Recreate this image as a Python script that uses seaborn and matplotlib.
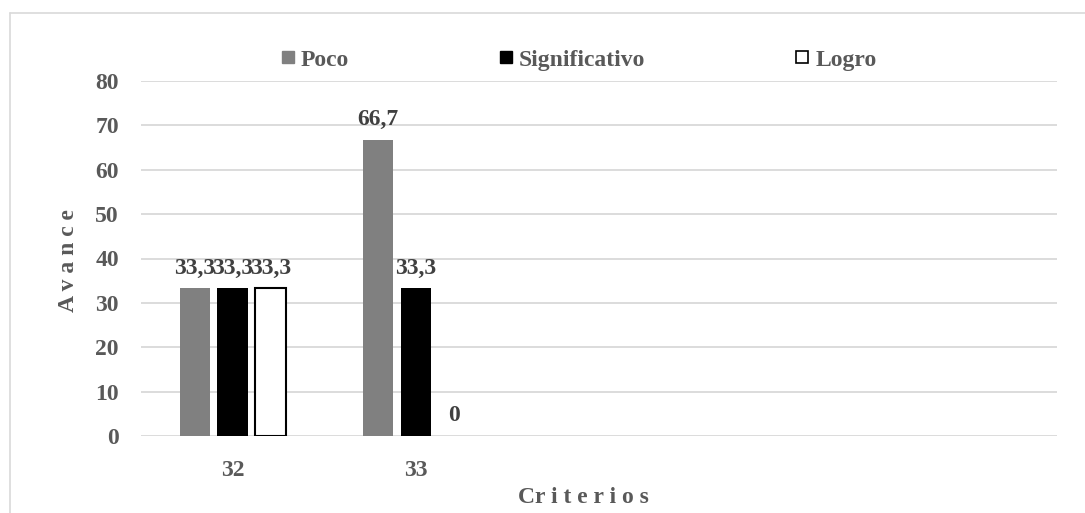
import matplotlib
matplotlib.use("Agg")
import matplotlib.pyplot as plt
import pandas as pd
import seaborn as sns
from matplotlib.lines import Line2D

# ---- data ----
categories = ["32", "33", " ", "  ", "   "]   # 5 category slots, last 3 empty
tick_labels = ["32", "33", "", "", ""]
data_cats = ["32", "33"]
series = ["Poco", "Significativo", "Logro"]
poco = [33.3, 66.7]
significativo = [33.3, 33.3]
logro = [33.3, 0]
y_ticks = [0, 10, 20, 30, 40, 50, 60, 70, 80]

df = pd.DataFrame({
    "Criterio": data_cats * 3,
    "Serie": [s for s in series for _ in data_cats],
    "Avance": poco + significativo + logro,
})

sns.set_theme(style="white")
plt.rcParams["font.family"] = ["Liberation Serif", "DejaVu Serif"]

TXT = "#595959"
FS = 17

fig = plt.figure(figsize=(10.85, 5.13), dpi=100)
ax = fig.add_axes([141 / 1085, 1 - 436 / 513, 916 / 1085, 355 / 513])

palette = {"Poco": "#808080", "Significativo": "#000000", "Logro": "#ffffff"}
sns.barplot(data=df, x="Criterio", y="Avance", hue="Serie", order=categories,
            hue_order=series, palette=palette, width=0.62, gap=0.2,
            errorbar=None, legend=False, ax=ax, saturation=1)

for i, cont in enumerate(ax.containers):
    for bar in cont:
        if series[i] == "Logro" and bar.get_height() > 0:
            bar.set_edgecolor("#000000")
            bar.set_linewidth(1.5)
        else:
            bar.set_linewidth(0)
    labels = [("%g" % v).replace(".", ",") for v in cont.datavalues]
    ax.bar_label(cont, labels=labels, padding=7, fontsize=FS,
                 fontweight="bold", color="#404040")

ax.set_ylim(0, 80)
ax.set_yticks(y_ticks)
ax.set_xticks(range(len(categories)))
ax.set_xticklabels(tick_labels)
ax.tick_params(axis="both", length=0, labelsize=FS, labelcolor=TXT)
ax.tick_params(axis="y", pad=16)
ax.tick_params(axis="x", pad=17)
for lab in ax.get_xticklabels() + ax.get_yticklabels():
    lab.set_fontweight("bold")

ax.yaxis.grid(True, color="#d9d9d9", lw=1.3)
ax.set_axisbelow(True)
for s in ax.spines.values():
    s.set_visible(False)

ax.set_xlabel("Cr i t e r i o s", fontsize=FS, fontweight="bold", color=TXT)
ax.set_ylabel("A v a n c e", fontsize=FS, fontweight="bold", color=TXT)
ax.xaxis.set_label_coords(0.483, -0.145)
ax.yaxis.set_label_coords(-0.068, 0.495)

handles = [
    Line2D([], [], marker="s", linestyle="none", markersize=9,
           markerfacecolor="#808080", markeredgecolor="#808080"),
    Line2D([], [], marker="s", linestyle="none", markersize=9,
           markerfacecolor="#000000", markeredgecolor="#000000"),
    Line2D([], [], marker="s", linestyle="none", markersize=9,
           markerfacecolor="#ffffff", markeredgecolor="#000000", markeredgewidth=1.2),
]
leg = fig.legend(handles, series, loc="center", bbox_to_anchor=(578 / 1085, 1 - 60 / 513),
                 ncol=3, frameon=False, columnspacing=6.3, handletextpad=0.2,
                 handlelength=0.7, prop={"size": FS, "weight": "bold"})
for t in leg.get_texts():
    t.set_color(TXT)

# chart-area border (top and left edges visible)
fig.add_artist(Line2D([10 / 1085, 10 / 1085], [0, 1 - 13 / 513], transform=fig.transFigure,
                      color="#d9d9d9", lw=1.2))
fig.add_artist(Line2D([10 / 1085, 1], [1 - 13 / 513, 1 - 13 / 513], transform=fig.transFigure,
                      color="#d9d9d9", lw=1.2))

fig.savefig("out.png", dpi=100, facecolor="white")
